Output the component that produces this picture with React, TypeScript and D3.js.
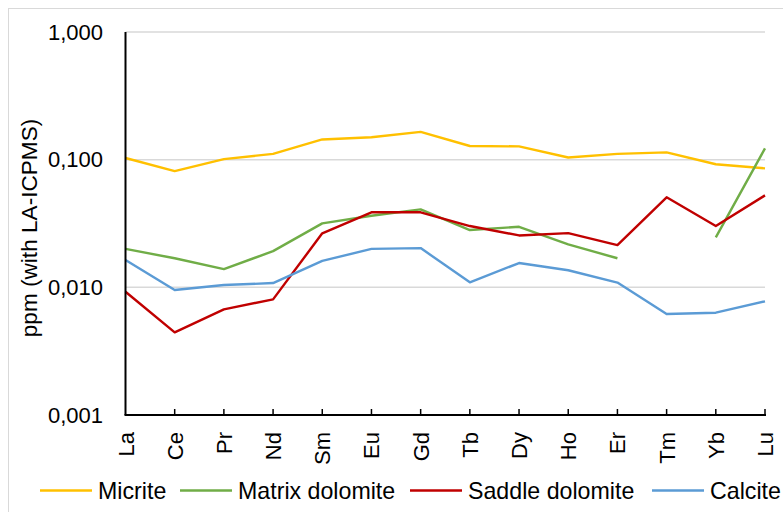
import React from "react";
import * as d3 from "d3";

const categories = ["La", "Ce", "Pr", "Nd", "Sm", "Eu", "Gd", "Tb", "Dy", "Ho", "Er", "Tm", "Yb", "Lu"];
const micrite = [0.103, 0.0814, 0.101, 0.111, 0.144, 0.150, 0.165, 0.128, 0.127, 0.104, 0.111, 0.114, 0.092, 0.0855];
const matrixDolomite: (number | null)[] = [0.0200, 0.0169, 0.0139, 0.0192, 0.0317, 0.0364, 0.0408, 0.0281, 0.0298, 0.0217, 0.0169, null, 0.0246, 0.1225];
const saddleDolomite = [0.00924, 0.00444, 0.00672, 0.00805, 0.0265, 0.0387, 0.0387, 0.0302, 0.0255, 0.0266, 0.0214, 0.0507, 0.0302, 0.0525];
const calcite = [0.0164, 0.00952, 0.01042, 0.0108, 0.0161, 0.0200, 0.0203, 0.01094, 0.0155, 0.0136, 0.0109, 0.00618, 0.00633, 0.00777];
const yTicks = [0.001, 0.01, 0.1, 1];
const yTickLabels = ["0,001", "0,010", "0,100", "1,000"];

const series = [
  { name: "Micrite", values: micrite as (number | null)[], color: "#FFC000" },
  { name: "Matrix dolomite", values: matrixDolomite, color: "#70AD47" },
  { name: "Saddle dolomite", values: saddleDolomite as (number | null)[], color: "#C00000" },
  { name: "Calcite", values: calcite as (number | null)[], color: "#5B9BD5" },
];

const legendX = [40, 180, 410, 652];

export default function App() {
  const W = 783, H = 512;
  const left = 125.5, right = 765, top = 32, bottom = 415;
  const x = d3.scalePoint<string>().domain(categories).range([left, right]);
  const y = d3.scaleLog().domain([0.001, 1]).range([bottom, top]);
  const font = "'Liberation Sans', Arial, sans-serif";

  const line = d3
    .line<number | null>()
    .defined((d) => d !== null)
    .x((_, i) => x(categories[i]) as number)
    .y((d) => y(d as number));

  return (
    <div style={{ position: "fixed", left: 0, top: 0 }}>
      <svg width={W} height={H} style={{ display: "block", background: "#fff" }} fontFamily={font}>
        <rect x={8.5} y={8.5} width={W + 20} height={H + 20} fill="#fff" stroke="#d9d9d9" strokeWidth={1} />
        {yTicks.map((t, i) => (
          <g key={t}>
            {i > 0 && (
              <line x1={left} x2={right} y1={y(t)} y2={y(t)} stroke="#d9d9d9" strokeWidth={1.5} />
            )}
            <text x={103} y={y(t)} dy="0.35em" textAnchor="end" fontSize={22} fill="#000">
              {yTickLabels[i]}
            </text>
          </g>
        ))}
        {series.map((s) => (
          <path
            key={s.name}
            d={line(s.values) || ""}
            fill="none"
            stroke={s.color}
            strokeWidth={2.4}
            strokeLinejoin="round"
          />
        ))}
        <line x1={left} x2={left} y1={top} y2={bottom} stroke="#000" strokeWidth={2} />
        <line x1={left - 1} x2={right + 1} y1={bottom} y2={bottom} stroke="#000" strokeWidth={2} />
        {categories.map((c, i) =>
          i > 0 ? (
            <line key={c} x1={x(c)} x2={x(c)} y1={bottom} y2={bottom - 6} stroke="#000" strokeWidth={1.5} />
          ) : null
        )}
        {categories.map((c) => (
          <text
            key={c}
            transform={`translate(${(x(c) as number) + 8},432) rotate(-90)`}
            textAnchor="end"
            fontSize={22}
            fill="#000"
          >
            {c}
          </text>
        ))}
        <text
          transform={`translate(37,228) rotate(-90)`}
          textAnchor="middle"
          fontSize={22.6}
          fill="#000"
        >
          ppm (with LA-ICPMS)
        </text>
        {series.map((s, i) => (
          <g key={s.name}>
            <line x1={legendX[i]} x2={legendX[i] + 52} y1={490.5} y2={490.5} stroke={s.color} strokeWidth={2.4} />
            <text x={legendX[i] + 58} y={499} fontSize={23.2} fill="#000">
              {s.name}
            </text>
          </g>
        ))}
      </svg>
    </div>
  );
}
